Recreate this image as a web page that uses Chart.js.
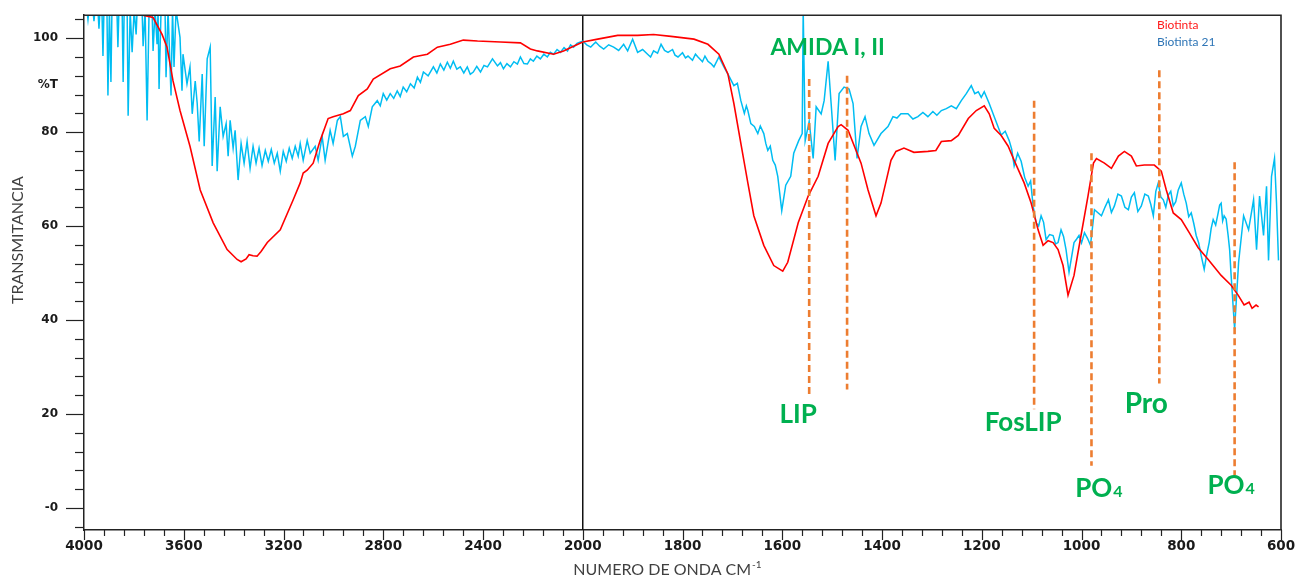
<!DOCTYPE html>
<html>
<head>
<meta charset="utf-8">
<title>FTIR Biotinta</title>
<script src="https://cdn.jsdelivr.net/npm/chart.js@4.4.1/dist/chart.umd.min.js"></script>
<style>
  html, body { margin: 0; padding: 0; background: #fff; }
  #wrap { width: 1304px; height: 582px; }
</style>
</head>
<body>
<div id="wrap"><canvas id="ftir" width="1304" height="582"></canvas></div>
<script>
// --- data (wavenumber cm-1, %T) ---
// values above ~105 are clipped at the top of the plot
var redWn = [
  3800, 3763, 3723, 3687, 3667, 3643, 3615, 3575, 3534, 3482,
  3426, 3386, 3370, 3350, 3338, 3322, 3306, 3290, 3265, 3213, 3161, 3133, 3121,
  3105, 3081, 3053, 3021, 3001, 2960, 2932, 2900, 2864, 2840,
  2772, 2732, 2679, 2623, 2583, 2531, 2479, 2422, 2330, 2250,
  2210, 2182, 2117, 2077, 2037, 2000, 1970, 1930, 1890, 1858,
  1823, 1777, 1749, 1727, 1709, 1697, 1683, 1669, 1657, 1637,
  1617, 1599, 1589, 1568, 1548, 1528, 1508, 1488, 1482, 1468,
  1442, 1428, 1412, 1402, 1382, 1372, 1356, 1336, 1308, 1292,
  1281, 1261, 1247, 1227, 1211, 1195, 1185, 1175, 1161, 1147,
  1135, 1115, 1101, 1087, 1077, 1067, 1057, 1047, 1037, 1027,
  1015, 1001, 987, 976, 970, 954, 940, 926, 914, 900,
  890, 874, 854, 840, 830, 816, 800, 784, 766, 746,
  720, 700, 686, 674, 664, 658, 650, 645
];
var redT = [
  110, 104.9, 104.4, 100.8, 98.1, 90.9, 84.6, 77.0, 67.7, 60.7,
  55.0, 52.9, 52.4, 53.0, 53.9, 53.7, 53.6, 54.6, 56.5, 59.2, 65.6, 69.2, 71.3,
  71.9, 73.4, 78.2, 82.9, 83.3, 83.9, 84.6, 87.8, 89.2, 91.3,
  93.5, 94.1, 96.0, 96.6, 98.1, 98.7, 99.6, 99.4, 99.2, 99.0,
  97.7, 97.3, 96.6, 97.3, 98.3, 99.2, 99.8, 100.6, 100.6, 100.8,
  100.4, 99.8, 98.7, 96.6, 92.4, 86.1, 77.6, 69.2, 62.2, 55.9,
  51.6, 50.4, 52.3, 60.7, 66.4, 70.6, 77.6, 81.2, 81.6, 80.4,
  73.4, 67.7, 62.2, 64.9, 74.0, 75.9, 76.6, 75.7, 75.9, 76.1,
  78.0, 78.2, 79.3, 82.9, 84.6, 85.6, 83.9, 80.8, 79.3, 77.0,
  74.0, 69.2, 64.9, 59.2, 55.9, 56.9, 56.5, 55.0, 51.6, 45.3,
  49.5, 58.0, 66.4, 73.4, 74.4, 73.4, 72.3, 74.9, 75.9, 74.9,
  72.8, 73.0, 73.0, 71.7, 67.7, 62.8, 61.4, 58.6, 55.4, 52.9,
  49.5, 47.4, 45.3, 43.2, 43.8, 42.5, 43.2, 42.8
];

var cyanWn = [
  4000, 3988, 3984, 3980, 3964, 3960, 3956, 3944, 3940, 3936,
  3928, 3924, 3920, 3908, 3904, 3898, 3892, 3888, 3868, 3864,
  3860, 3847, 3843, 3839, 3827, 3823, 3815, 3807, 3799, 3791,
  3787, 3767, 3763, 3755, 3747, 3739, 3727, 3723, 3715, 3707,
  3703, 3699, 3691, 3675, 3671, 3663, 3651, 3645, 3639, 3631,
  3615, 3607, 3603, 3587, 3575, 3566, 3554, 3546, 3538, 3526,
  3518, 3506, 3494, 3486, 3474, 3466, 3454, 3442, 3430, 3422,
  3414, 3402, 3394, 3382, 3370, 3358, 3346, 3334, 3322, 3310,
  3298, 3286, 3273, 3261, 3249, 3237, 3225, 3213, 3201, 3189,
  3177, 3165, 3153, 3141, 3133, 3121, 3105, 3093, 3073, 3061,
  3045, 3033, 3013, 3001, 2984, 2972, 2960, 2944, 2924, 2912,
  2892, 2872, 2860, 2844, 2824, 2812, 2800, 2786, 2772, 2758,
  2744, 2732, 2720, 2706, 2691, 2676, 2663, 2651, 2639, 2620,
  2599, 2585, 2571, 2557, 2543, 2531, 2519, 2505, 2491, 2477,
  2463, 2451, 2439, 2425, 2410, 2396, 2382, 2362, 2342, 2330,
  2318, 2304, 2290, 2276, 2262, 2250, 2236, 2222, 2210, 2198,
  2184, 2170, 2156, 2142, 2130, 2117, 2103, 2089, 2075, 2061,
  2049, 2037, 2023, 2009,
  2000, 1992, 1984, 1974, 1966, 1958, 1948, 1938, 1928, 1918,
  1910, 1900, 1890, 1880, 1870, 1864, 1858, 1850, 1843, 1836,
  1829, 1820, 1815, 1809, 1800, 1794, 1789, 1780, 1774, 1769,
  1760, 1755, 1749, 1743, 1737, 1727, 1717, 1707, 1697, 1690,
  1683, 1676, 1672, 1669, 1663, 1656, 1649, 1644, 1637, 1633,
  1629, 1624, 1619, 1614, 1609, 1601, 1593, 1583, 1577, 1567,
  1560, 1558, 1554, 1546, 1538, 1532, 1522, 1516, 1508, 1502,
  1494, 1486, 1476, 1466, 1458, 1450, 1442, 1434, 1426, 1416,
  1402, 1388, 1378, 1370, 1362, 1348, 1338, 1328, 1318, 1308,
  1298, 1290, 1281, 1271, 1261, 1251, 1241, 1231, 1221, 1214,
  1207, 1201, 1195, 1185, 1175, 1161, 1153, 1145, 1140, 1135,
  1128, 1121, 1114, 1107, 1102, 1097, 1091, 1086, 1081, 1076,
  1071, 1064, 1057, 1052, 1047, 1041, 1036, 1031, 1025, 1015,
  1010, 1005, 1000, 994, 988, 982, 974, 960, 953, 946,
  940, 934, 927, 920, 913, 906, 900, 894, 887, 880,
  873, 866, 861, 856, 851, 846, 841, 836, 831, 826,
  821, 816, 811, 806, 800, 795, 790, 785, 780, 775,
  770, 765, 760, 754, 749, 744, 740, 736, 731, 726,
  723, 720, 717, 714, 710, 706, 703, 700, 693, 685,
  675, 665, 655, 649, 643, 635, 629, 625, 619, 613,
  609, 605
];
var cyanT = [
  106, 106, 104.0, 106, 106, 103.6, 106, 106, 102.0, 106,
  106, 96.2, 106, 106, 87.8, 106, 90.7, 106, 106, 98.1,
  106, 106, 90.7, 106, 106, 83.5, 106, 97.0, 106, 100.8,
  106, 106, 98.3, 106, 82.5, 106, 106, 97.3, 106, 98.7,
  106, 89.2, 106, 106, 91.7, 106, 87.8, 106, 93.9, 106,
  100.2, 88.8, 96.6, 90.3, 93.9, 83.9, 90.9, 86.1, 78.0, 92.4,
  77.0, 95.6, 98.1, 72.8, 87.5, 71.7, 85.4, 79.1, 81.8, 74.9,
  82.5, 76.6, 80.4, 69.8, 77.6, 73.4, 78.0, 72.3, 77.0, 73.4,
  76.6, 72.9, 76.1, 73.8, 76.3, 73.4, 75.5, 71.7, 75.9, 73.8,
  76.6, 74.4, 77.0, 74.9, 77.6, 74.0, 78.2, 75.5, 77.0, 74.0,
  79.1, 74.0, 80.4, 77.6, 82.5, 83.3, 79.1, 79.7, 74.9, 77.0,
  82.5, 83.3, 81.2, 85.4, 86.7, 85.6, 88.2, 86.8, 88.2, 87.2,
  88.8, 87.6, 89.6, 88.6, 90.3, 89.4, 91.7, 90.6, 92.8, 92.0,
  93.9, 92.6, 94.5, 93.2, 94.9, 93.6, 95.1, 93.4, 93.9, 92.6,
  93.9, 92.3, 92.8, 94.0, 92.8, 94.2, 93.9, 95.6, 94.1, 94.8,
  93.5, 94.6, 93.9, 95.0, 94.5, 96.0, 94.6, 94.5, 95.6, 95.1,
  96.2, 95.6, 96.6, 96.0, 97.0, 96.6, 97.6, 97.0, 98.0, 97.3,
  98.6, 98.1, 98.9, 99.2,
  99.4, 98.6, 98.1, 99.2, 98.3, 97.7, 98.6, 98.1, 97.4, 98.7,
  97.3, 99.8, 97.0, 97.6, 96.6, 96.0, 97.3, 96.8, 98.7, 97.4,
  97.0, 97.6, 96.4, 96.0, 96.9, 95.8, 96.2, 95.3, 96.6, 96.0,
  95.0, 96.2, 95.1, 94.6, 93.9, 96.0, 93.9, 92.0, 89.9, 90.4,
  86.7, 84.0, 85.6, 84.6, 81.8, 81.2, 79.7, 81.3, 79.7, 77.6,
  76.1, 77.0, 74.0, 73.0, 70.6, 63.3, 68.7, 70.6, 75.5, 78.2,
  79.7, 106, 78.2, 82.3, 74.4, 85.4, 83.9, 86.7, 95.1, 86.1,
  74.0, 88.2, 89.6, 89.2, 86.1, 74.4, 81.2, 83.3, 79.7, 77.2,
  79.7, 81.2, 83.3, 83.0, 83.9, 83.9, 82.8, 83.3, 84.2, 83.3,
  84.4, 83.6, 84.6, 85.0, 85.6, 85.0, 86.7, 88.2, 89.9, 88.2,
  88.6, 87.4, 88.6, 86.1, 83.3, 79.4, 80.2, 78.2, 76.4, 72.8,
  75.5, 73.8, 70.4, 68.5, 69.6, 64.3, 60.7, 60.0, 62.2, 60.8,
  57.1, 58.2, 58.0, 56.2, 56.5, 59.2, 57.8, 55.0, 50.2, 56.5,
  57.2, 58.0, 56.4, 58.6, 57.4, 55.9, 63.5, 62.2, 64.0, 65.6,
  62.9, 64.3, 66.8, 66.4, 64.0, 63.5, 66.2, 67.1, 63.1, 64.3,
  66.8, 66.4, 64.6, 62.2, 67.4, 69.2, 66.2, 65.6, 64.0, 66.6,
  67.4, 64.3, 65.2, 67.7, 69.2, 66.8, 64.9, 62.0, 62.8, 60.6,
  58.0, 56.4, 53.7, 50.8, 53.9, 56.5, 59.5, 61.4, 60.2, 62.8,
  64.5, 64.9, 61.1, 62.2, 61.5, 58.0, 55.0, 49.5, 38.1, 52.3,
  62.2, 59.2, 65.6, 55.0, 66.4, 58.0, 68.5, 52.7, 70.6, 74.4,
  64.9, 52.7
];

// orange dashed band markers
var markWn = [1546, 1470, 1095, 980, 844, 693];
var markTop = [91.3, 92.0, 86.7, 75.5, 93.2, 73.6];
var markBottom = [24.2, 25.2, 21.0, 9.0, 26.5, 6.9];

// green band names
var noteText = ['AMIDA I, II', 'LIP', 'FosLIP', 'Pro', 'PO', 'PO'];
var noteSub = ['', '', '', '', '4', '4'];
var noteWn = [1509, 1568, 1117, 870, 966, 701];
var noteT = [98.1, 20.0, 18.3, 22.3, 4.3, 5.0];
var noteSize = [23, 26, 26, 28, 26, 26];

// axis ticks
var xTickWn = [4000, 3600, 3200, 2800, 2400, 2000, 1800, 1600, 1400, 1200, 1000, 800, 600];
var yTickVals = [100, 90, 80, 60, 40, 20, 0];
var yTickText = ['100', '%T', '80', '60', '40', '20', '-0'];

var seriesNames = ['Biotinta', 'Biotinta 21'];
var seriesColors = ['#ff0000', '#00bdf2'];
var legendColors = ['#ff1a1a', '#2e75b6'];

// the x axis is split: 4000-2000 at half the scale of 2000-600
function toPos(w) {
    return w >= 2000 ? (4000 - w) / 2 : 1000 + (2000 - w);
}
function fromPos(p) {
    return p <= 1000 ? 4000 - 2 * p : 2000 - (p - 1000);
}

function pts(wn, t) {
    var out = [];
    for (var i = 0; i < Math.min(wn.length, t.length); i++) {
        out.push({x: toPos(wn[i]), y: t[i]});
    }
    return out;
}

var datasets = [];
for (var m = 0; m < markWn.length; m++) {
    datasets.push({
        label: 'mark' + m,
        data: [{x: toPos(markWn[m]), y: markTop[m]}, {x: toPos(markWn[m]), y: markBottom[m]}],
        borderColor: '#ed7d31',
        borderWidth: 2.6,
        borderDash: [7, 4]
    });
}
datasets.push({label: seriesNames[0], data: pts(redWn, redT), borderColor: seriesColors[0], borderWidth: 1.6});
datasets.push({label: seriesNames[1], data: pts(cyanWn, cyanT), borderColor: seriesColors[1], borderWidth: 1.5});
datasets.push({label: 'split', data: [{x: 1000, y: -10}, {x: 1000, y: 120}], borderColor: '#111', borderWidth: 1.5});

var ftirDecor = {
    id: 'ftirDecor',
    afterDraw: function (chart) {
        var ctx = chart.ctx, a = chart.chartArea;
        var xs = chart.scales.x, ys = chart.scales.y;
        ctx.save();

        // frame (top and right)
        ctx.strokeStyle = '#262626';
        ctx.lineWidth = 1.6;
        ctx.beginPath();
        ctx.moveTo(a.left, a.top);
        ctx.lineTo(a.right, a.top);
        ctx.lineTo(a.right, a.bottom);
        ctx.stroke();

        // tick marks
        ctx.lineWidth = 1.2;
        ctx.strokeStyle = '#222';
        for (var p = 0; p <= 2400; p += 40) {
            var px = Math.round(xs.getPixelForValue(p)) + 0.5;
            var len = p % 200 === 0 ? 10 : 6;
            ctx.beginPath();
            ctx.moveTo(px, a.bottom);
            ctx.lineTo(px, a.bottom + len);
            ctx.stroke();
        }
        for (var v = -4; v <= 104; v += 4) {
            var py = Math.round(ys.getPixelForValue(v)) + 0.5;
            var ylen = v % 20 === 0 ? 18 : 9;
            ctx.beginPath();
            ctx.moveTo(a.left - ylen, py);
            ctx.lineTo(a.left, py);
            ctx.stroke();
        }

        // axis titles
        ctx.fillStyle = '#404040';
        ctx.font = '16px Lato';
        ctx.textAlign = 'center';
        ctx.textBaseline = 'middle';
        ctx.save();
        ctx.translate(18, 240);
        ctx.rotate(-Math.PI / 2);
        ctx.fillText('TRANSMITANCIA', 0, 0);
        ctx.restore();

        var main = 'NUMERO DE ONDA CM', sup = '-1';
        ctx.font = '16px Lato';
        var w1 = ctx.measureText(main).width;
        ctx.font = '10px Lato';
        var w2 = ctx.measureText(sup).width;
        var x0 = 667 - (w1 + w2) / 2;
        ctx.textAlign = 'left';
        ctx.textBaseline = 'alphabetic';
        ctx.font = '16px Lato';
        ctx.fillText(main, x0, 575);
        ctx.font = '10px Lato';
        ctx.fillText(sup, x0 + w1 + 1, 568);

        // band names
        ctx.fillStyle = '#00b050';
        for (var n = 0; n < noteText.length; n++) {
            var cx = xs.getPixelForValue(toPos(noteWn[n]));
            var cy = ys.getPixelForValue(noteT[n]);
            var size = noteSize[n];
            ctx.font = 'bold ' + size + 'px Lato';
            var tw = ctx.measureText(noteText[n]).width;
            var sw = 0;
            if (noteSub[n]) {
                ctx.font = 'bold ' + Math.round(size * 0.62) + 'px Lato';
                sw = ctx.measureText(noteSub[n]).width;
            }
            var left = cx - (tw + sw) / 2;
            var base = cy + size * 0.36;
            ctx.font = 'bold ' + size + 'px Lato';
            ctx.fillText(noteText[n], left, base);
            if (noteSub[n]) {
                ctx.font = 'bold ' + Math.round(size * 0.62) + 'px Lato';
                ctx.fillText(noteSub[n], left + tw + 1, base);
            }
        }

        // legend (text only)
        ctx.font = '12px Lato';
        for (var s = 0; s < seriesNames.length; s++) {
            ctx.fillStyle = legendColors[s];
            ctx.fillText(seriesNames[s], 1157, 29 + s * 17);
        }
        ctx.restore();
    }
};

var ctx = document.getElementById('ftir').getContext('2d');
var chartFtir = new Chart(ctx, {
    type: 'line',
    data: {datasets: datasets},
    options: {
        responsive: false,
        animation: false,
        devicePixelRatio: 1,
        layout: {padding: {top: 11, right: 23, left: 0, bottom: 0}},
        elements: {point: {radius: 0}, line: {tension: 0}},
        plugins: {legend: {display: false}, tooltip: {enabled: false}},
        scales: {
            x: {
                type: 'linear',
                min: 0,
                max: 2400,
                afterBuildTicks: function (scale) {
                    scale.ticks = xTickWn.map(function (w) { return {value: toPos(w)}; });
                },
                afterFit: function (scale) { scale.height = 52; },
                grid: {drawOnChartArea: false, tickLength: 8, tickColor: 'rgba(0,0,0,0)'},
                border: {color: '#222', width: 1.5},
                ticks: {
                    autoSkip: false,
                    maxRotation: 0,
                    padding: 0,
                    color: '#1a1a1a',
                    font: {family: 'DejaVu Sans', weight: 'bold', size: 13.5},
                    callback: function (value) { return String(fromPos(value)); }
                }
            },
            y: {
                min: -4.7,
                max: 104.9,
                afterBuildTicks: function (scale) {
                    scale.ticks = yTickVals.map(function (v) { return {value: v}; });
                },
                afterFit: function (scale) { scale.width = 84; },
                grid: {drawOnChartArea: false, tickLength: 18, tickColor: 'rgba(0,0,0,0)'},
                border: {color: '#222', width: 1.5},
                ticks: {
                    autoSkip: false,
                    padding: 8,
                    color: '#1a1a1a',
                    font: {family: 'DejaVu Sans', weight: 'bold', size: 12},
                    callback: function (value) {
                        var k = yTickVals.indexOf(value);
                        return k >= 0 ? yTickText[k] : '';
                    }
                }
            }
        }
    },
    plugins: [ftirDecor]
});
</script>
</body>
</html>
